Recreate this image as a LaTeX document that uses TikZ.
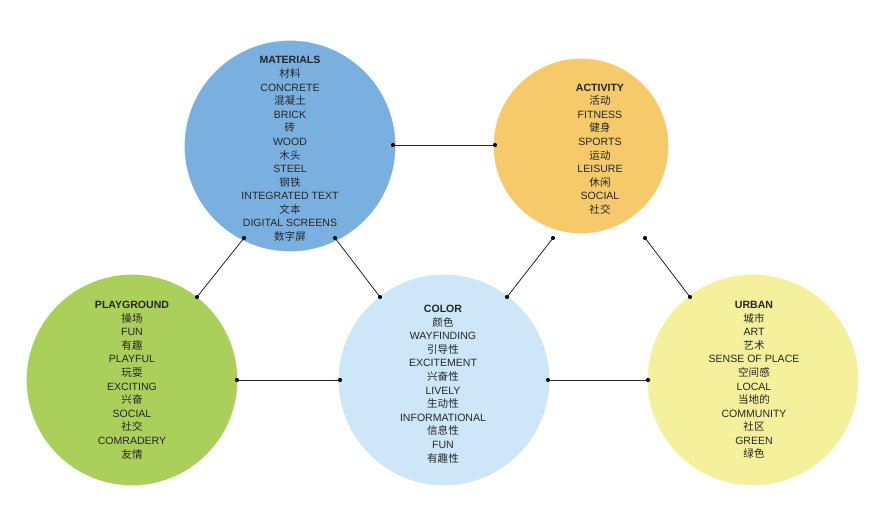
\documentclass[tikz,border=0pt]{standalone}
\usepackage{fontspec}
\setmainfont{Liberation Sans}
\newfontfamily\cjk{Noto Sans CJK SC}
\begin{document}
\begin{tikzpicture}[x=0.03cm,y=-0.03cm,
  circ/.style={circle,draw=white,line width=1pt,inner sep=0pt},
  txt/.style={align=center,font=\fontsize{9}{11.6}\selectfont,text=black!85},
  conn/.style={draw=black!85,line width=0.7pt},
  dot/.style={circle,fill=black,inner sep=0pt,minimum size=3.5pt}]
\useasboundingbox (0,0) rectangle (880,528);
\fill[white] (0,0) rectangle (880,528);
\newcommand{\zh}[1]{{\cjk #1}}
\node[circ,fill={rgb,255:red,122;green,176;blue,224},minimum size=212*0.03cm] (mat) at (290,146) {};
\node[circ,fill={rgb,255:red,246;green,201;blue,106},minimum size=176*0.03cm] (act) at (581,146) {};
\node[circ,fill={rgb,255:red,170;green,207;blue,90},minimum size=212*0.03cm] (pla) at (132,380) {};
\node[circ,fill={rgb,255:red,205;green,230;blue,248},minimum size=212*0.03cm] (col) at (444,380) {};
\node[circ,fill={rgb,255:red,245;green,240;blue,155},minimum size=212*0.03cm] (urb) at (753,380) {};
\node[txt] (tmat) at (290,149) {\textbf{MATERIALS}\\\zh{材料}\\CONCRETE\\\zh{混凝土}\\BRICK\\\zh{砖}\\WOOD\\\zh{木头}\\STEEL\\\zh{钢铁}\\INTEGRATED TEXT\\\zh{文本}\\DIGITAL SCREENS\\\zh{数字屏}};
\node[txt] (tact) at (600,149) {\textbf{ACTIVITY}\\\zh{活动}\\FITNESS\\\zh{健身}\\SPORTS\\\zh{运动}\\LEISURE\\\zh{休闲}\\SOCIAL\\\zh{社交}};
\node[txt] (tpla) at (132,380) {\textbf{PLAYGROUND}\\\zh{操场}\\FUN\\\zh{有趣}\\PLAYFUL\\\zh{玩耍}\\EXCITING\\\zh{兴奋}\\SOCIAL\\\zh{社交}\\COMRADERY\\\zh{友情}};
\node[txt] (tcol) at (443,384) {\textbf{COLOR}\\\zh{颜色}\\WAYFINDING\\\zh{引导性}\\EXCITEMENT\\\zh{兴奋性}\\LIVELY\\\zh{生动性}\\INFORMATIONAL\\\zh{信息性}\\FUN\\\zh{有趣性}};
\node[txt] (turb) at (754,380) {\textbf{URBAN}\\\zh{城市}\\ART\\\zh{艺术}\\SENSE OF PLACE\\\zh{空间感}\\LOCAL\\\zh{当地的}\\COMMUNITY\\\zh{社区}\\GREEN\\\zh{绿色}};
\coordinate (a1) at (393,145); \coordinate (a2) at (495,145);
\coordinate (b1) at (244,238); \coordinate (b2) at (197,297);
\coordinate (c1) at (335,238); \coordinate (c2) at (380,297);
\coordinate (d1) at (553,238); \coordinate (d2) at (507,297);
\coordinate (e1) at (645,238); \coordinate (e2) at (690,297);
\coordinate (f1) at (237,380); \coordinate (f2) at (340,380);
\coordinate (g1) at (548,380); \coordinate (g2) at (648,380);
\foreach \p/\q in {a1/a2,b1/b2,c1/c2,d1/d2,e1/e2,f1/f2,g1/g2}{
  \draw[conn] (\p) -- (\q);
  \node[dot] at (\p) {}; \node[dot] at (\q) {};
}
\end{tikzpicture}
\end{document}
